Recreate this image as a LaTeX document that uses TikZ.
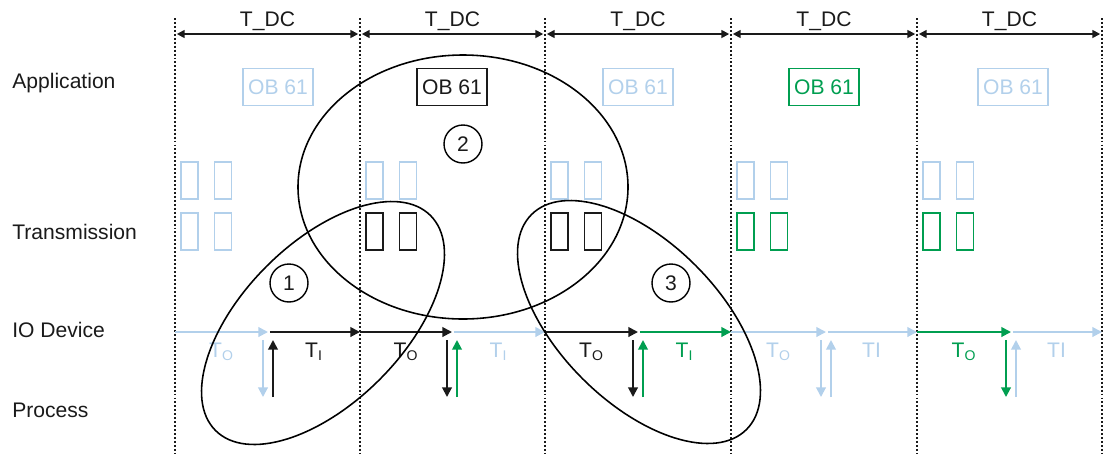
\documentclass[tikz,border=0pt]{standalone}
\usepackage{fontspec}
\setmainfont{Liberation Sans}
\usepackage{tikz}
\usetikzlibrary{arrows.meta,positioning}
\definecolor{cyclelight}{RGB}{178,208,235}
\definecolor{cyclegreen}{RGB}{0,158,80}
\definecolor{cycleblack}{RGB}{26,26,26}

\begin{document}
\begin{tikzpicture}[
    x=0.02cm, y=-0.02cm,
    lbl/.style={font=\fontsize{12}{14}\selectfont, text=cycleblack},
    grid/.style={line width=1pt, draw=cycleblack, dash pattern=on 1.1pt off 1.15pt},
    dcarrow/.style={line width=1pt, draw=cycleblack, {Triangle[length=4.5pt,width=4.5pt]}-{Triangle[length=4.5pt,width=4.5pt]}, shorten <=1pt, shorten >=1pt},
    ob/.style={draw, line width=1pt, font=\fontsize{12}{14}\selectfont, minimum width=1.4cm, minimum height=0.74cm, inner sep=1pt},
    slot/.style={draw, line width=1pt, minimum width=0.34cm, minimum height=0.74cm, inner sep=0pt},
    flow/.style={line width=1.1pt, -{Triangle[length=5.5pt,width=5.5pt]}},
    tlbl/.style={font=\fontsize{12}{14}\selectfont, inner sep=0pt},
    ring/.style={line width=0.9pt, draw=black},
    num/.style={circle, draw=black, line width=0.8pt, minimum size=0.76cm, inner sep=0pt, font=\fontsize{12}{14}\selectfont, text=cycleblack}
]
    \useasboundingbox (0,0) rectangle (1109,454);

    % Layer names
    \node[lbl, anchor=west, inner sep=0pt] (app) at (12,83) {Application};
    \node[lbl, anchor=west, inner sep=0pt] (trans) at (12,232) {Transmission};
    \node[lbl, anchor=west, inner sep=0pt] (iodev) at (12,330) {IO Device};
    \node[lbl, anchor=west, inner sep=0pt] (proc) at (12,410) {Process};

    % Cycle boundaries
    \foreach \x [count=\i] in {175,360,545,731,917,1102} {
        \coordinate (top\i) at (\x,18);
        \coordinate (bot\i) at (\x,454);
        \coordinate (dc\i) at (\x,34);
        \coordinate (io\i) at (\x,332);
        \draw[grid] (top\i) -- (bot\i);
    }

    % T_DC cycles
    \foreach \i/\j in {1/2,2/3,3/4,4/5,5/6} {
        \draw[dcarrow] (dc\i) -- (dc\j) node[midway, lbl, anchor=base, yshift=0.16cm] (tdc\i) {T\_DC};
    }

    % OB 61 calls
    \foreach \x/\c [count=\i] in {278/cyclelight, 452/cycleblack, 638/cyclelight, 824/cyclegreen, 1013/cyclelight} {
        \node[ob, draw=\c, text=\c] (ob\i) at (\x,87) {OB 61};
    }

    % Transmission frames
    \foreach \x/\c [count=\i] in {175/cyclelight, 360/cycleblack, 545/cycleblack, 731/cyclegreen, 917/cyclegreen} {
        \node[slot, draw=cyclelight] (txa\i) at (\x+14.5,180.5) {};
        \node[slot, draw=cyclelight] (txb\i) at (\x+48,180.5) {};
        \node[slot, draw=\c] (txc\i) at (\x+14.5,231.5) {};
        \node[slot, draw=\c] (txd\i) at (\x+48,231.5) {};
    }

    % IO device and process
    \foreach \m/\a/\b/\dn/\up [count=\i] in {
        268/cyclelight/cycleblack/cyclelight/cycleblack,
        452/cycleblack/cyclelight/cycleblack/cyclegreen,
        638/cycleblack/cyclegreen/cycleblack/cyclegreen,
        826/cyclelight/cyclelight/cyclelight/cyclelight,
        1011/cyclegreen/cyclelight/cyclegreen/cyclelight} {
        \coordinate (mid\i) at (\m,332);
        \coordinate (dna\i) at (\m-5,340);
        \coordinate (dnb\i) at (\m-5,397);
        \coordinate (upa\i) at (\m+5,397);
        \coordinate (upb\i) at (\m+5,340);
        \draw[flow, \a] (io\i) -- (mid\i) node[midway, tlbl, below=0.2cm] (to\i) {T\textsubscript{O}};
        \draw[flow, \dn] (dna\i) -- (dnb\i);
        \draw[flow, \up] (upa\i) -- (upb\i);
    }
    \draw[flow, cycleblack, shorten <=1pt] (mid1) -- (io2) node[midway, tlbl, below=0.2cm] (ti1) {T\textsubscript{I}};
    \draw[flow, cyclelight, shorten <=1pt] (mid2) -- (io3) node[midway, tlbl, below=0.2cm] (ti2) {T\textsubscript{I}};
    \draw[flow, cyclegreen, shorten <=1pt] (mid3) -- (io4) node[midway, tlbl, below=0.2cm] (ti3) {T\textsubscript{I}};
    \draw[flow, cyclelight, shorten <=1pt] (mid4) -- (io5) node[midway, tlbl, below=0.2cm] (ti4) {TI};
    \draw[flow, cyclelight, shorten <=1pt] (mid5) -- (io6) node[midway, tlbl, below=0.2cm] (ti5) {TI};

    % Highlighted groups
    \draw[ring] (463,187) ellipse [x radius=165, y radius=132];
    \draw[ring, rotate around={45:(323,323)}] (323,323) ellipse [x radius=152, y radius=80];
    \draw[ring, rotate around={-45:(639,322)}] (639,322) ellipse [x radius=152, y radius=80];
    \node[num] (g1) at (289,283) {1};
    \node[num] (g2) at (463,144) {2};
    \node[num] (g3) at (671,283) {3};

\end{tikzpicture}
\end{document}
